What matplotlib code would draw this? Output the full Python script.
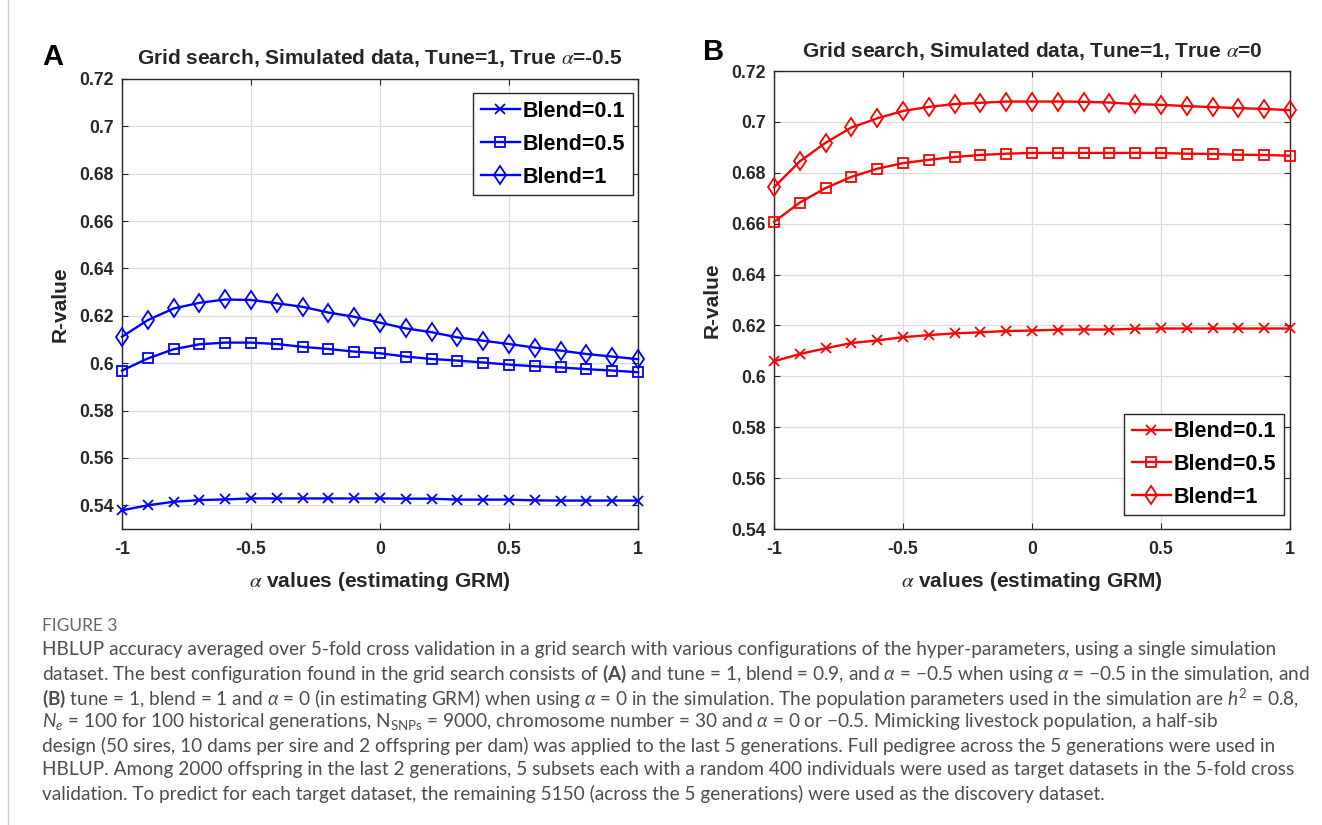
import matplotlib
matplotlib.use('Agg')
import matplotlib.pyplot as plt
from matplotlib.lines import Line2D

plt.rcParams['axes.unicode_minus'] = False
plt.rcParams['mathtext.fontset'] = 'custom'
plt.rcParams['mathtext.rm'] = 'Lato'
plt.rcParams['mathtext.it'] = 'Lato:italic'
plt.rcParams['mathtext.bf'] = 'Lato:bold'

# ---------------- data ----------------
alpha_grid = [-1.0, -0.9, -0.8, -0.7, -0.6, -0.5, -0.4, -0.3, -0.2, -0.1, 0.0,
              0.1, 0.2, 0.3, 0.4, 0.5, 0.6, 0.7, 0.8, 0.9, 1.0]

a_blend01 = [0.5379, 0.5400, 0.5415, 0.5422, 0.5425, 0.5429, 0.5429, 0.5429, 0.5429, 0.5429, 0.5429,
             0.5428, 0.5428, 0.5424, 0.5424, 0.5424, 0.5421, 0.5420, 0.5420, 0.5420, 0.5420]
a_blend05 = [0.5969, 0.6020, 0.6059, 0.6080, 0.6087, 0.6087, 0.6081, 0.6069, 0.6060, 0.6049, 0.6042,
             0.6028, 0.6018, 0.6011, 0.6003, 0.5994, 0.5987, 0.5982, 0.5975, 0.5969, 0.5962]
a_blend1 = [0.6112, 0.6182, 0.6231, 0.6255, 0.6269, 0.6267, 0.6253, 0.6238, 0.6214, 0.6196, 0.6171,
            0.6147, 0.6131, 0.6109, 0.6095, 0.6081, 0.6066, 0.6053, 0.6039, 0.6028, 0.6017]

b_blend01 = [0.6059, 0.6088, 0.6110, 0.6131, 0.6141, 0.6154, 0.6162, 0.6169, 0.6173, 0.6178, 0.6180,
             0.6183, 0.6184, 0.6184, 0.6187, 0.6188, 0.6188, 0.6188, 0.6188, 0.6188, 0.6188]
b_blend05 = [0.6607, 0.6683, 0.6740, 0.6784, 0.6816, 0.6838, 0.6851, 0.6862, 0.6870, 0.6875, 0.6878,
             0.6878, 0.6878, 0.6878, 0.6878, 0.6878, 0.6875, 0.6874, 0.6871, 0.6870, 0.6867]
b_blend1 = [0.6743, 0.6845, 0.6918, 0.6978, 0.7014, 0.7043, 0.7059, 0.7070, 0.7075, 0.7080, 0.7080,
            0.7080, 0.7079, 0.7076, 0.7070, 0.7067, 0.7062, 0.7058, 0.7054, 0.7051, 0.7046]

legend_labels = ['Blend=0.1', 'Blend=0.5', 'Blend=1']
x_ticks = [-1, -0.5, 0, 0.5, 1]
x_tick_labels = ['-1', '-0.5', '0', '0.5', '1']
y_ticks = [0.54, 0.56, 0.58, 0.60, 0.62, 0.64, 0.66, 0.68, 0.70, 0.72]
y_tick_labels = ['0.54', '0.56', '0.58', '0.6', '0.62', '0.64', '0.66', '0.68', '0.7', '0.72']
title_a = r'Grid search, Simulated data, Tune=1, True $\alpha$=-0.5'
title_b = r'Grid search, Simulated data, Tune=1, True $\alpha$=0'
x_label = r'$\alpha$ values (estimating GRM)'
y_label = 'R-value'

caption_head = 'FIGURE 3'
caption_lines = [
    'HBLUP accuracy averaged over 5-fold cross validation in a grid search with various configurations of the hyper-parameters, using a single simulation',
    r'dataset. The best configuration found in the grid search consists of $\mathbf{(A)}$ and tune = 1, blend = 0.9, and $\mathit{\alpha}$ = −0.5 when using $\mathit{\alpha}$ = −0.5 in the simulation, and',
    r'$\mathbf{(B)}$ tune = 1, blend = 1 and $\mathit{\alpha}$ = 0 (in estimating GRM) when using $\mathit{\alpha}$ = 0 in the simulation. The population parameters used in the simulation are $\mathit{h}^2$ = 0.8,',
    r'$\mathit{N_e}$ = 100 for 100 historical generations, N$_{\mathrm{SNPs}}$ = 9000, chromosome number = 30 and $\mathit{\alpha}$ = 0 or −0.5. Mimicking livestock population, a half-sib',
    'design (50 sires, 10 dams per sire and 2 offspring per dam) was applied to the last 5 generations. Full pedigree across the 5 generations were used in',
    'HBLUP. Among 2000 offspring in the last 2 generations, 5 subsets each with a random 400 individuals were used as target datasets in the 5-fold cross',
    'validation. To predict for each target dataset, the remaining 5150 (across the 5 generations) were used as the discovery dataset.',
]

# ---------------- figure ----------------
W, H = 1322, 825
fig = plt.figure(figsize=(W / 100, H / 100), dpi=100)
fig.patch.set_facecolor('white')

FONT = 'Liberation Sans'
dark = '#262626'

def px_box(l, t, r, b):
    return [l / W, 1 - b / H, (r - l) / W, (b - t) / H]

def style_axes(ax, ylim):
    ax.set_xlim(-1, 1)
    ax.set_ylim(*ylim)
    ax.set_xticks(x_ticks)
    ax.set_xticklabels(x_tick_labels)
    ax.set_yticks(y_ticks)
    ax.set_yticklabels(y_tick_labels)
    for lab in ax.get_xticklabels() + ax.get_yticklabels():
        lab.set_fontfamily(FONT)
        lab.set_fontweight('bold')
        lab.set_fontsize(12.7)
        lab.set_color(dark)
    ax.tick_params(direction='in', length=4, width=0.8, color=dark,
                   top=True, right=True)
    ax.tick_params(axis='x', pad=9)
    ax.tick_params(axis='y', pad=6)
    ax.grid(True, color='#dcdcdc', linewidth=0.9)
    ax.set_axisbelow(True)
    for s in ax.spines.values():
        s.set_color(dark)
        s.set_linewidth(1.0)
    ax.set_xlabel(x_label, fontfamily=FONT, fontweight='bold', fontsize=15,
                  color=dark, math_fontfamily='stix', labelpad=8)
    ax.set_ylabel(y_label, fontfamily=FONT, fontweight='bold', fontsize=15,
                  color=dark, labelpad=7)

def draw_series(ax, series, color):
    markers = ['x', 's', 'd']
    sizes = [7.5, 7, 9.5]
    for vals, m, ms, lab in zip(series, markers, sizes, legend_labels):
        ax.plot(alpha_grid, vals, color=color, lw=1.7, marker=m, ms=ms,
                mfc='none', mec=color, mew=1.3, label=lab, clip_on=False, zorder=3)

def make_legend(ax, loc, anchor):
    leg = ax.legend(loc=loc, bbox_to_anchor=anchor,
                    prop={'family': FONT, 'weight': 'bold', 'size': 15.5},
                    frameon=True, fancybox=False, edgecolor=dark, framealpha=1,
                    handlelength=1.8, handletextpad=0.15, borderpad=0.35,
                    labelspacing=0.55, borderaxespad=0)
    leg.get_frame().set_linewidth(1.0)
    return leg

# Panel A
axA = fig.add_axes(px_box(122, 79, 638, 529))
draw_series(axA, [a_blend01, a_blend05, a_blend1], '#0000ff')
style_axes(axA, (0.53, 0.72))
axA.set_title(title_a, fontfamily=FONT, fontweight='bold', fontsize=15,
              color=dark, math_fontfamily='stix', pad=11)
make_legend(axA, 'upper right', (0.990, 0.968))

# Panel B
axB = fig.add_axes(px_box(774, 71, 1290, 529))
draw_series(axB, [b_blend01, b_blend05, b_blend1], '#ff0000')
style_axes(axB, (0.54, 0.72))
axB.set_title(title_b, fontfamily=FONT, fontweight='bold', fontsize=15,
              color=dark, math_fontfamily='stix', pad=10)
make_legend(axB, 'lower right', (0.988, 0.03))

# Panel letters
fig.text(53 / W, 1 - 57 / H, 'A', fontfamily=FONT, fontweight='bold',
         fontsize=21, ha='center', va='center', color='black')
fig.text(714 / W, 1 - 52 / H, 'B', fontfamily=FONT, fontweight='bold',
         fontsize=21, ha='center', va='center', color='black')

# left border line
fig.add_artist(Line2D([8 / W, 8 / W], [0, 1], color='#d0d0d0', lw=1.0))

# Caption
cap_color = '#4d4d4d'
fig.text(42 / W, 1 - 626 / H, caption_head, fontfamily='Lato', fontsize=12.5,
         color='#666666', ha='left', va='center')
for i, line in enumerate(caption_lines):
    y = 650 + i * 24
    fig.text(42 / W, 1 - y / H, line, fontfamily='Lato', fontsize=13.7,
             color=cap_color, ha='left', va='center', math_fontfamily='custom')

fig.savefig('out.png', dpi=100, facecolor='white')
